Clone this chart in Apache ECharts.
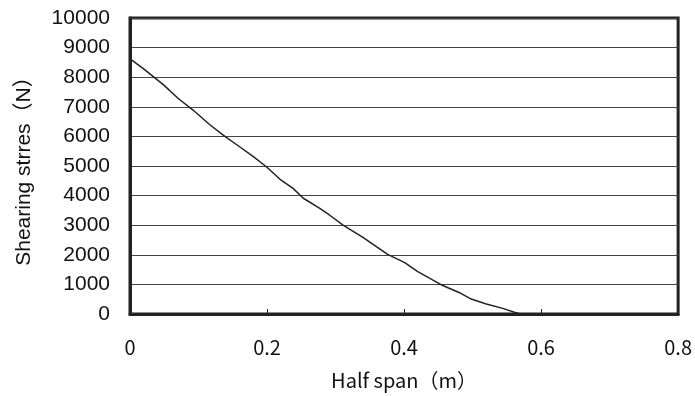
<!DOCTYPE html>
<html>
<head>
<meta charset="utf-8">
<script src="https://cdn.jsdelivr.net/npm/echarts@6/dist/echarts.min.js"></script>
<style>html,body{margin:0;padding:0;background:#fff}#c{width:695px;height:396px}</style>
</head>
<body>
<div id="c"></div>
<script>
var halfSpan = [0, 0.019, 0.049, 0.070, 0.092, 0.117, 0.138, 0.160, 0.180, 0.199, 0.219, 0.238, 0.253, 0.277, 0.291, 0.311, 0.321, 0.340, 0.376, 0.401, 0.420, 0.454, 0.481, 0.498, 0.520, 0.544, 0.561, 0.570];
var shearing = [8620, 8300, 7740, 7290, 6890, 6385, 6010, 5650, 5315, 4975, 4550, 4245, 3910, 3570, 3345, 3005, 2860, 2590, 2015, 1735, 1430, 990, 720, 505, 340, 190, 60, 0];
var xTicks = [0, 0.2, 0.4, 0.6, 0.8];
var yTicks = [0, 1000, 2000, 3000, 4000, 5000, 6000, 7000, 8000, 9000, 10000];
var xName = 'Half span（m）';
var yName = 'Shearing strres（N）';

var pts = halfSpan.map(function (x, i) { return [x, shearing[i]]; });
var CJK = '"Noto Sans CJK JP", "Noto Sans", sans-serif';
var SANS = '"Liberation Sans", Arial, "Noto Sans CJK JP", sans-serif';
var chart = echarts.init(document.getElementById('c'), null, {renderer: 'canvas'});
chart.setOption({
  animation: false,
  grid: {left: 130, right: 16, top: 18, bottom: 82, show: true, borderColor: '#222', borderWidth: 3, backgroundColor: 'transparent'},
  xAxis: {
    type: 'value', min: xTicks[0], max: xTicks[xTicks.length - 1], interval: 0.2,
    name: xName, nameLocation: 'middle', nameGap: 56,
    nameTextStyle: {fontFamily: CJK, fontSize: 20, color: '#111'},
    axisLine: {show: true, lineStyle: {color: '#222', width: 3}},
    axisTick: {show: true, inside: true, length: 5, lineStyle: {color: '#222', width: 1}},
    splitLine: {show: false},
    axisLabel: {margin: 23, fontFamily: CJK, fontSize: 20, color: '#111', formatter: function (v) { return String(Math.round(v * 10) / 10); }}
  },
  yAxis: {
    type: 'value', min: yTicks[0], max: yTicks[yTicks.length - 1], interval: 1000,
    name: yName, nameLocation: 'middle', nameGap: 95,
    nameTextStyle: {fontFamily: SANS, fontSize: 21, color: '#111'},
    axisLine: {show: true, lineStyle: {color: '#222', width: 3}},
    axisTick: {show: false},
    splitLine: {show: true, lineStyle: {color: '#444', width: 1}},
    axisLabel: {margin: 20, fontFamily: SANS, fontSize: 21, color: '#111', formatter: function (v) { return String(v); }}
  },
  series: [{
    type: 'line', data: pts, showSymbol: false, symbol: 'none',
    lineStyle: {color: '#222', width: 1.5}
  }]
});
</script>
</body>
</html>
